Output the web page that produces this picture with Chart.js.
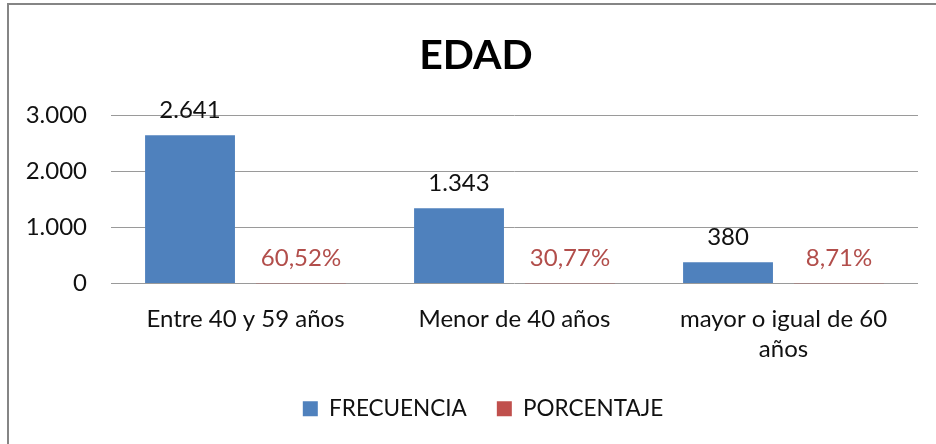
<!DOCTYPE html>
<html>
<head>
<meta charset="utf-8">
<script src="https://cdn.jsdelivr.net/npm/chart.js@4.4.1/dist/chart.umd.min.js"></script>
<style>
  html, body { margin: 0; padding: 0; background: #fff; }
  #wrap { position: relative; width: 936px; height: 444px; overflow: hidden; }
  #frame {
    position: absolute; left: 7px; top: 3px; width: 1000px; height: 500px;
    border-left: 2px solid #858585; border-top: 2px solid #858585;
    pointer-events: none;
  }
  canvas { position: absolute; left: 0; top: 0; }
</style>
</head>
<body>
<div id="wrap">
  <canvas id="edadChart" width="936" height="444"></canvas>
  <div id="frame"></div>
</div>
<script>
// datos
const categorias = ['Entre 40 y 59 años', 'Menor de 40 años', ['mayor o igual de 60', 'años']];
const frecuencia = [2641, 1343, 380];
const porcentaje = [0.6052, 0.3077, 0.0871];
const ticksY = [0, 1000, 2000, 3000];

const FONT = 'Lato, "Open Sans", sans-serif';
const AZUL = '#4F81BD';
const ROJO = '#C0504D';

const fmtMiles = (v) => String(Math.round(v)).replace(/\B(?=(\d{3})+(?!\d))/g, '.');
const fmtPct = (v) => (v * 100).toFixed(2).replace('.', ',') + '%';

// etiquetas de datos encima de cada barra
const etiquetasPlugin = {
  id: 'etiquetas',
  afterLayout(chart) {
    // el título y la leyenda van algo más a la derecha que el centro del canvas
    if (chart.titleBlock) { chart.titleBlock.left += 5; chart.titleBlock.right += 5; }
    if (chart.legend) { chart.legend.left += 12; chart.legend.right += 12; }
  },
  afterDatasetsDraw(chart) {
    const ctx = chart.ctx;
    ctx.save();
    ctx.font = '24px ' + FONT;
    ctx.textAlign = 'center';
    ctx.textBaseline = 'middle';
    chart.data.datasets.forEach((ds, di) => {
      const meta = chart.getDatasetMeta(di);
      meta.data.forEach((bar, i) => {
        ctx.fillStyle = di === 0 ? '#111' : '#B24E4B';
        const txt = di === 0 ? fmtMiles(ds.data[i]) : fmtPct(ds.data[i]);
        ctx.fillText(txt, bar.x, bar.y - 25);
      });
    });
    ctx.restore();
  }
};

const ctx = document.getElementById('edadChart').getContext('2d');
new Chart(ctx, {
  type: 'bar',
  data: {
    labels: categorias,
    datasets: [{
      label: 'FRECUENCIA',
      data: frecuencia,
      backgroundColor: AZUL,
      categoryPercentage: 0.825,
      barPercentage: 0.81,
    }, {
      label: 'PORCENTAJE',
      data: porcentaje,
      backgroundColor: ROJO,
      categoryPercentage: 0.825,
      barPercentage: 0.81,
    }]
  },
  options: {
    responsive: false,
    animation: false,
    layout: { padding: { left: 24, right: 18, top: 0, bottom: 14 } },
    plugins: {
      title: {
        display: true,
        text: 'EDAD',
        color: '#000',
        font: { family: FONT, size: 41, weight: 'bold' },
        padding: { top: 31, bottom: 35 }
      },
      legend: {
        position: 'bottom',
        labels: {
          color: '#111',
          font: { family: FONT, size: 22.5 },
          boxWidth: 15,
          boxHeight: 15,
          padding: 30,
        }
      },
      tooltip: { enabled: false }
    },
    scales: {
      y: {
        min: 0,
        max: 3000,
        afterBuildTicks: (scale) => { scale.ticks = ticksY.map(v => ({ value: v })); },
        afterFit: (scale) => { scale.width = 87; },
        grid: { color: '#9a9a9a', lineWidth: 1, drawTicks: false },
        border: { display: false },
        ticks: {
          color: '#111',
          font: { family: FONT, size: 24 },
          padding: 24,
          callback: (v) => fmtMiles(v)
        }
      },
      x: {
        afterFit: (scale) => { scale.height = 84; },
        grid: { display: false, drawTicks: false },
        border: { display: false },
        ticks: {
          color: '#111',
          font: { family: FONT, size: 24, lineHeight: 1.23 },
          padding: 21,
          maxRotation: 0,
          autoSkip: false
        }
      }
    }
  },
  plugins: [etiquetasPlugin]
});
</script>
</body>
</html>
